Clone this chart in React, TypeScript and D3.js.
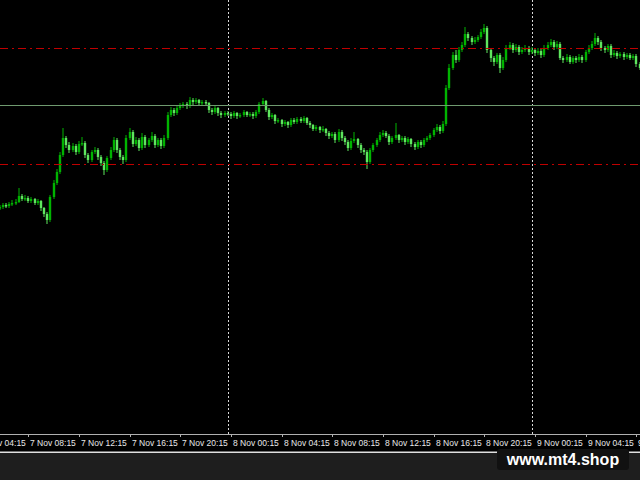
import * as d3 from "d3";

// M15 bars, 7 Nov 06:00 -> 9 Nov 08:30
const barStart = new Date(2023, 10, 7, 6, 0);
const barMinutes = 15;
const firstOpen = 1.0792;

const closes = [
  1.0793, 1.0795, 1.0794, 1.0796, 1.0797, 1.0798, 1.0804, 1.0801, 1.0802, 1.0799,
  1.0801, 1.0797, 1.0799, 1.0792, 1.0786, 1.078, 1.0803, 1.0817, 1.0828, 1.0845,
  1.0862, 1.0855, 1.085, 1.0854, 1.0848, 1.0856, 1.0857, 1.0845, 1.084, 1.0848,
  1.085, 1.0843, 1.0837, 1.083, 1.0842, 1.085, 1.086, 1.085, 1.0843, 1.084,
  1.0862, 1.0868, 1.0856, 1.086, 1.0852, 1.0863, 1.0855, 1.086, 1.0864, 1.0855,
  1.086, 1.0854, 1.0862, 1.0885, 1.089, 1.0887, 1.0892, 1.0894, 1.0896, 1.0894,
  1.09, 1.0898, 1.09, 1.0897, 1.0898, 1.0897, 1.089, 1.0888, 1.0892, 1.0887,
  1.0885, 1.0887, 1.0886, 1.0884, 1.0887, 1.0884, 1.0885, 1.0888, 1.0885, 1.0886,
  1.0884, 1.0888, 1.0896, 1.0899, 1.089, 1.0883, 1.0885, 1.0879, 1.088, 1.0876,
  1.0878, 1.0875, 1.088, 1.0878, 1.0881, 1.0879, 1.0882, 1.0877, 1.0875, 1.0871,
  1.0873, 1.087, 1.0871, 1.0867, 1.0864, 1.0866, 1.086, 1.0868, 1.0862, 1.0858,
  1.0852, 1.0859, 1.0861, 1.0855, 1.085, 1.0848, 1.0838, 1.085, 1.0855, 1.086,
  1.0865, 1.0867, 1.0864, 1.0858, 1.0862, 1.0865, 1.086, 1.0862, 1.0858, 1.0861,
  1.0856, 1.0853, 1.0858, 1.0855, 1.086, 1.0862, 1.0865, 1.087, 1.0873, 1.0869,
  1.0876, 1.0912, 1.0932, 1.0945, 1.094, 1.095, 1.0955, 1.0966, 1.0962, 1.0958,
  1.096, 1.0963, 1.0968, 1.0972, 1.095, 1.0942, 1.0938, 1.0945, 1.0932, 1.094,
  1.0952, 1.0955, 1.095, 1.0953, 1.0948, 1.095, 1.0952, 1.0948, 1.095, 1.0947,
  1.0949, 1.0945, 1.0952, 1.0955, 1.0958, 1.0953, 1.0956, 1.0942, 1.094, 1.0943,
  1.0938, 1.0942, 1.094, 1.0943, 1.094, 1.0948, 1.0952, 1.0956, 1.0962, 1.0958,
  1.0952, 1.095, 1.0954, 1.0945, 1.0947, 1.0944, 1.0946, 1.0943, 1.0945, 1.0942,
  1.0944, 1.0936, 1.0932,
];

const highs = [
  1.0795, 1.0797, 1.0797, 1.0798, 1.08, 1.0801, 1.0812, 1.0806, 1.0805, 1.0804,
  1.0803, 1.0802, 1.0801, 1.08, 1.0793, 1.0788, 1.0805, 1.082, 1.0831, 1.0848,
  1.0872, 1.0864, 1.0858, 1.0857, 1.0856, 1.0859, 1.0863, 1.0859, 1.0847, 1.085,
  1.0853, 1.0852, 1.0845, 1.0839, 1.0844, 1.0853, 1.0863, 1.0862, 1.0852, 1.0845,
  1.0865, 1.0872, 1.087, 1.0863, 1.0862, 1.0867, 1.0865, 1.0862, 1.0868, 1.0866,
  1.0862, 1.0862, 1.0865, 1.0888, 1.0893, 1.0892, 1.0895, 1.0897, 1.0898, 1.0898,
  1.0903, 1.0902, 1.0902, 1.0901, 1.09, 1.09, 1.0898, 1.0892, 1.0894, 1.0893,
  1.0889, 1.0889, 1.0889, 1.0888, 1.0889, 1.0888, 1.0887, 1.089, 1.0889, 1.0888,
  1.0888, 1.089, 1.0898, 1.0902, 1.09, 1.0892, 1.0887, 1.0886, 1.0882, 1.0881,
  1.088, 1.0879, 1.0882, 1.0882, 1.0883, 1.0883, 1.0884, 1.0883, 1.0879, 1.0876,
  1.0875, 1.0874, 1.0874, 1.0872, 1.0869, 1.0868, 1.0868, 1.0871, 1.087, 1.0864,
  1.086, 1.0862, 1.0868, 1.0862, 1.0857, 1.0852, 1.085, 1.0852, 1.0857, 1.0862,
  1.0868, 1.087, 1.0869, 1.0866, 1.0864, 1.0877, 1.0866, 1.0864, 1.0864, 1.0863,
  1.0862, 1.0858, 1.086, 1.086, 1.0862, 1.0864, 1.0867, 1.0872, 1.0876, 1.0875,
  1.0879, 1.0915, 1.0936, 1.0948, 1.095, 1.0953, 1.0958, 1.0973, 1.0968, 1.0964,
  1.0963, 1.0965, 1.0971, 1.0976, 1.0974, 1.0952, 1.0944, 1.0947, 1.0947, 1.0943,
  1.0955, 1.0958, 1.0957, 1.0956, 1.0955, 1.0953, 1.0955, 1.0954, 1.0953, 1.0952,
  1.0952, 1.0951, 1.0955, 1.0958, 1.0961, 1.096, 1.0959, 1.0958, 1.0944, 1.0946,
  1.0945, 1.0944, 1.0944, 1.0946, 1.0945, 1.095, 1.0955, 1.0959, 1.0967, 1.0964,
  1.096, 1.0954, 1.0956, 1.0956, 1.095, 1.0949, 1.0948, 1.0948, 1.0947, 1.0947,
  1.0946, 1.0946, 1.0938,
];

const lows = [
  1.079, 1.0791, 1.0792, 1.0792, 1.0794, 1.0795, 1.0797, 1.0799, 1.0799, 1.0797,
  1.0797, 1.0795, 1.0795, 1.0789, 1.0783, 1.0776, 1.0778, 1.0801, 1.0815, 1.0826,
  1.0843, 1.0852, 1.0847, 1.0848, 1.0845, 1.0846, 1.0854, 1.0842, 1.0837, 1.0838,
  1.0846, 1.084, 1.0834, 1.0825, 1.0828, 1.084, 1.0848, 1.0847, 1.084, 1.0836,
  1.0838, 1.086, 1.0853, 1.0854, 1.0849, 1.085, 1.0852, 1.0853, 1.0858, 1.0852,
  1.0853, 1.0851, 1.0852, 1.086, 1.0883, 1.0884, 1.0885, 1.089, 1.0892, 1.0891,
  1.0892, 1.0895, 1.0896, 1.0895, 1.0895, 1.0894, 1.0887, 1.0885, 1.0886, 1.0884,
  1.0882, 1.0883, 1.0884, 1.0881, 1.0882, 1.0881, 1.0882, 1.0883, 1.0883, 1.0883,
  1.0881, 1.0882, 1.0886, 1.0894, 1.0888, 1.088, 1.0881, 1.0876, 1.0877, 1.0873,
  1.0874, 1.0872, 1.0873, 1.0876, 1.0876, 1.0877, 1.0877, 1.0875, 1.0872, 1.0869,
  1.0869, 1.0867, 1.0868, 1.0864, 1.0861, 1.0862, 1.0857, 1.0858, 1.0859, 1.0855,
  1.0849, 1.085, 1.0857, 1.0852, 1.0847, 1.0845, 1.0831, 1.0836, 1.0848, 1.0853,
  1.0858, 1.0863, 1.0862, 1.0855, 1.0856, 1.086, 1.0857, 1.0858, 1.0855, 1.0856,
  1.0853, 1.085, 1.0851, 1.0852, 1.0853, 1.0858, 1.086, 1.0863, 1.0868, 1.0866,
  1.0867, 1.0874, 1.091, 1.093, 1.0937, 1.0938, 1.0948, 1.0953, 1.0959, 1.0955,
  1.0956, 1.0958, 1.0961, 1.0966, 1.0947, 1.0938, 1.0934, 1.0936, 1.0927, 1.093,
  1.0938, 1.095, 1.0947, 1.0948, 1.0945, 1.0946, 1.0948, 1.0945, 1.0946, 1.0944,
  1.0945, 1.0942, 1.0943, 1.095, 1.0953, 1.095, 1.0951, 1.094, 1.0937, 1.0938,
  1.0936, 1.0936, 1.0937, 1.0938, 1.0937, 1.0938, 1.0946, 1.095, 1.0954, 1.0955,
  1.0949, 1.0947, 1.0948, 1.0942, 1.0943, 1.0941, 1.0942, 1.094, 1.0941, 1.094,
  1.094, 1.0933, 1.093,
];

const tickLabels = [
  "7 Nov 04:15", "7 Nov 08:15", "7 Nov 12:15", "7 Nov 16:15", "7 Nov 20:15",
  "8 Nov 00:15", "8 Nov 04:15", "8 Nov 08:15", "8 Nov 12:15", "8 Nov 16:15",
  "8 Nov 20:15", "9 Nov 00:15", "9 Nov 04:15", "9 Nov 08:15",
];
const daySeparators = ["8 Nov 00:00", "9 Nov 00:00"];
const dashedLevels = [1.0952, 1.0836];
const solidLevel = 1.0895;
const watermark = "www.mt4.shop";

const W = 640;
const H = 480;
const plotBottom = 434;
const parse = d3.timeParse("%Y %d %b %H:%M");
const toDate = (s: string) => parse("2023 " + s) as Date;

export default function App() {
  const times = closes.map(
    (_, i) => new Date(barStart.getTime() + i * barMinutes * 60000)
  );
  const opens = closes.map((_, i) => (i === 0 ? firstOpen : closes[i - 1]));

  const x = d3
    .scaleTime()
    .domain([times[0], times[times.length - 1]])
    .range([-0.2, 639.5]);
  const y = d3.scaleLinear().domain([1.0567, 1.1]).range([433, 0]);

  const bullColor = "#00b400";
  const bearColor = "#5ee65e";

  return (
    <svg
      width={W}
      height={H}
      style={{ position: "absolute", left: 0, top: 0, display: "block" }}
    >
      <defs>
        <clipPath id="plot">
          <rect x={0} y={0} width={W} height={plotBottom} />
        </clipPath>
        <clipPath id="axis">
          <rect x={0} y={plotBottom} width={W} height={18} />
        </clipPath>
      </defs>
      <rect x={0} y={0} width={W} height={H} fill="#000" />
      <rect x={0} y={453} width={W} height={H - 453} fill="#1e1e1e" />

      <g clipPath="url(#plot)">
        {daySeparators.map((d) => {
          const px = Math.round(x(toDate(d))) + 0.5;
          return (
            <line
              key={d}
              x1={px}
              x2={px}
              y1={0}
              y2={plotBottom}
              stroke="#d8d8d8"
              strokeDasharray="2,2"
            />
          );
        })}

        {closes.map((c, i) => {
          const o = opens[i];
          const cx = Math.round(x(times[i]));
          const bull = c >= o;
          const color = bull ? bullColor : bearColor;
          const top = y(Math.max(o, c));
          const bot = y(Math.min(o, c));
          return (
            <g key={i}>
              <rect
                x={cx - 0.5}
                width={1}
                y={y(highs[i])}
                height={Math.max(1, y(lows[i]) - y(highs[i]))}
                fill={color}
              />
              <rect
                x={cx - 1.2}
                width={2.4}
                y={top}
                height={Math.max(1.5, bot - top)}
                fill={color}
              />
            </g>
          );
        })}

        {dashedLevels.map((lv) => (
          <line
            key={lv}
            x1={0}
            x2={W}
            y1={Math.round(y(lv)) + 0.5}
            y2={Math.round(y(lv)) + 0.5}
            stroke="#c00000"
            strokeDasharray="8,4,2,4"
          />
        ))}
        <line
          x1={0}
          x2={W}
          y1={Math.round(y(solidLevel)) + 0.5}
          y2={Math.round(y(solidLevel)) + 0.5}
          stroke="#6f9a6f"
        />
      </g>

      <line x1={0} x2={W} y1={plotBottom + 0.5} y2={plotBottom + 0.5} stroke="#b0b0b0" />
      <g clipPath="url(#axis)">
        {tickLabels.map((t) => {
          const px = Math.round(x(toDate(t))) + 0.5;
          return (
            <g key={t}>
              <line x1={px} x2={px} y1={plotBottom} y2={plotBottom + 3} stroke="#b0b0b0" />
              <text
                x={px + 1.5}
                y={446}
                fill="#e8e8e8"
                fontFamily="'Liberation Sans', Arial, sans-serif"
                fontSize={8.5}
              >
                {t}
              </text>
            </g>
          );
        })}
      </g>

      <rect x={0} y={451.5} width={W} height={1.5} fill="#e0e0e0" />
      <rect x={497} y={449} width={132} height={21} rx={3} fill="#111" />
      <text
        x={563}
        y={465}
        textAnchor="middle"
        fill="#fff"
        fontFamily="'Liberation Sans', Arial, sans-serif"
        fontWeight="bold"
        fontSize={16}
      >
        {watermark}
      </text>
    </svg>
  );
}
